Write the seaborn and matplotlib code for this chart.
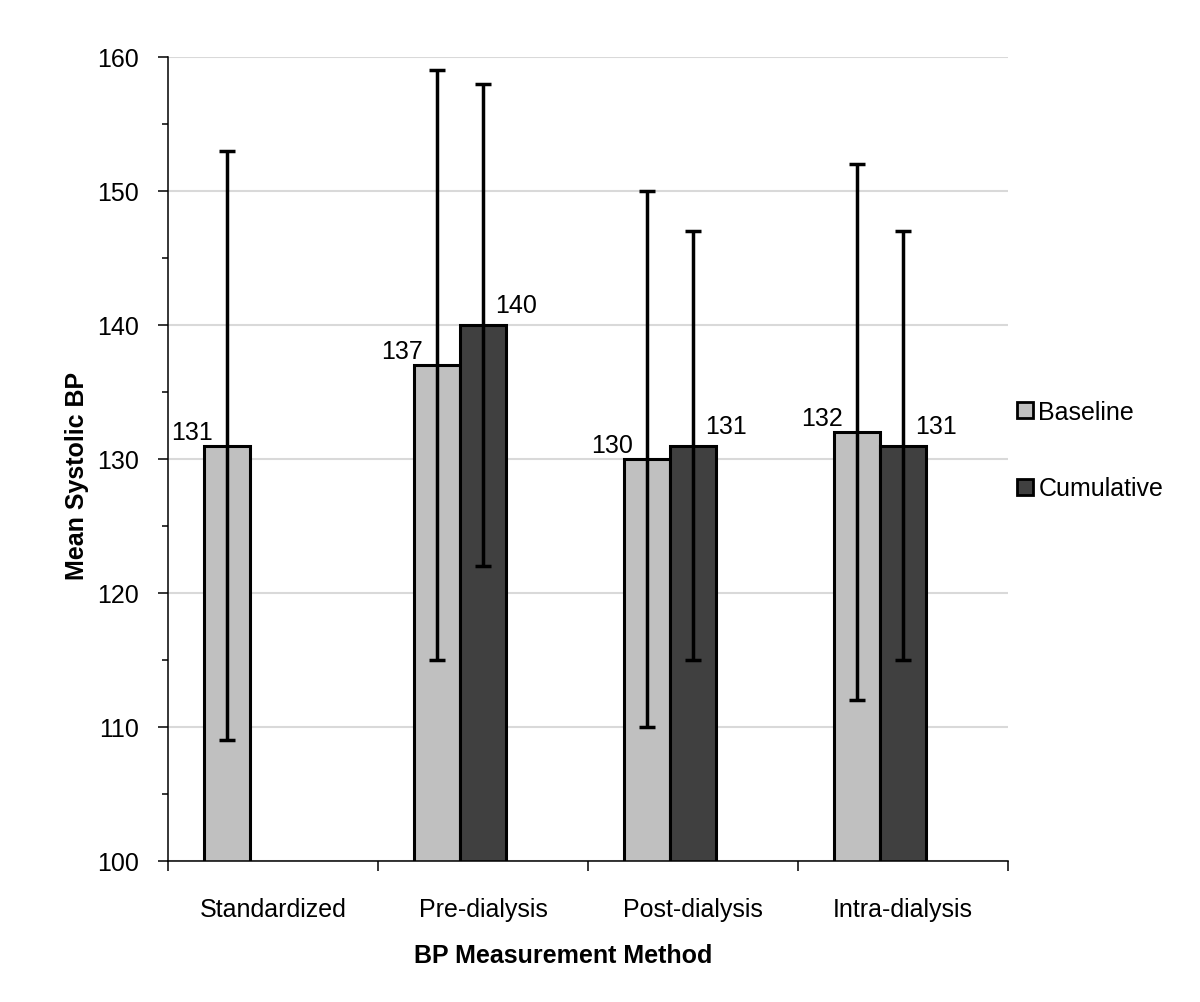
import numpy as np
import pandas as pd
import matplotlib
matplotlib.use("Agg")
import matplotlib.pyplot as plt
from matplotlib.lines import Line2D
from matplotlib.ticker import MultipleLocator, FixedLocator
import seaborn as sns

# ---------- DATA ----------
methods = ["Standardized", "Pre-dialysis", "Post-dialysis", "Intra-dialysis"]
baseline_mean = [131, 137, 130, 132]
baseline_sd = [22, 22, 20, 20]
cumulative_mean = [np.nan, 140, 131, 131]
cumulative_sd = [np.nan, 18, 16, 16]
series_names = ["Baseline", "Cumulative"]
colors = {"Baseline": "#C0C0C0", "Cumulative": "#404040", "": "white"}

rows = []
for i, m in enumerate(methods):
    rows.append({"method": m, "series": "Baseline", "value": baseline_mean[i], "sd": baseline_sd[i]})
    if not np.isnan(cumulative_mean[i]):
        rows.append({"method": m, "series": "Cumulative", "value": cumulative_mean[i], "sd": cumulative_sd[i]})
df = pd.DataFrame(rows)

# ---------- STYLE ----------
sns.set_theme(style="white")
plt.rcParams["font.family"] = ["Liberation Sans", "DejaVu Sans"]
plt.rcParams["text.color"] = "black"
plt.rcParams["axes.labelcolor"] = "black"
plt.rcParams["xtick.color"] = "black"
plt.rcParams["ytick.color"] = "black"
FS = 18

fig = plt.figure(figsize=(12, 10.03), dpi=100)
ax = fig.add_axes([168 / 1200, 1 - 862 / 1003, 840 / 1200, 804 / 1003])

# third empty hue level keeps the Excel-style offset of the bar groups
sns.barplot(data=df, x="method", y="value", hue="series",
            order=methods, hue_order=series_names + [""],
            palette=colors, width=0.657, dodge=True,
            edgecolor="black", linewidth=2.2, errorbar=None,
            legend=False, ax=ax, zorder=2)

# ---------- ERROR BARS + VALUE LABELS ----------
for p in ax.patches:
    h = p.get_height()
    if not np.isfinite(h) or p.get_width() == 0:
        continue
    cx = p.get_x() + p.get_width() / 2
    idx = int(round(cx))
    if cx < idx - 0.1:
        sd = baseline_sd[idx]
        off, ha = (-10, 5), "right"
    else:
        sd = cumulative_sd[idx]
        off, ha = (9, 9), "left"
    ax.errorbar(cx, h, yerr=sd, fmt="none", ecolor="black",
                elinewidth=2.5, capsize=6, capthick=2.5, zorder=3)
    ax.annotate(f"{h:.0f}", xy=(cx, h), xytext=off, textcoords="offset points",
                ha=ha, va="baseline", fontsize=FS, color="black", zorder=4)

# ---------- AXES ----------
ax.set_ylim(100, 160)
ax.set_xlim(-0.5, len(methods) - 0.5)
ax.yaxis.set_major_locator(MultipleLocator(10))
ax.yaxis.set_minor_locator(MultipleLocator(5))
ax.xaxis.set_minor_locator(FixedLocator(np.arange(-0.5, len(methods), 1.0)))
ax.grid(axis="y", which="major", color="#D9D9D9", linewidth=1.5, zorder=0)
ax.set_axisbelow(True)

for s in ["top", "right"]:
    ax.spines[s].set_visible(False)
for s in ["left", "bottom"]:
    ax.spines[s].set_color("black")
    ax.spines[s].set_linewidth(1.1)

ax.tick_params(axis="y", which="major", direction="out", length=7.2, width=1.1,
               color="black", labelcolor="black", labelsize=FS, pad=14, left=True)
ax.tick_params(axis="y", which="minor", direction="out", length=4.3, width=1.1,
               color="black", left=True)
ax.tick_params(axis="x", which="major", length=0, labelsize=FS, labelcolor="black", pad=26)
ax.tick_params(axis="x", which="minor", direction="out", length=7.2, width=1.1,
               color="black", bottom=True)

ax.set_xlabel("BP Measurement Method", fontsize=FS, fontweight="bold", color="black")
ax.set_ylabel("Mean Systolic BP", fontsize=FS, fontweight="bold", color="black")
ax.xaxis.set_label_coords(0.47, -0.102)
ax.yaxis.set_label_coords(-0.094, 0.48)

# ---------- LEGEND ----------
handles = [Line2D([0], [0], marker="s", linestyle="none", markersize=11,
                  markerfacecolor=colors[n], markeredgecolor="black",
                  markeredgewidth=2) for n in series_names]
fig.legend(handles, series_names, loc="upper left",
           bbox_to_anchor=(1016 / 1200, 1 - 401 / 1003),
           frameon=False, fontsize=FS, borderpad=0, borderaxespad=0,
           handlelength=0.7, handletextpad=0.2, labelspacing=2.1)

fig.savefig("out.png", dpi=100)
